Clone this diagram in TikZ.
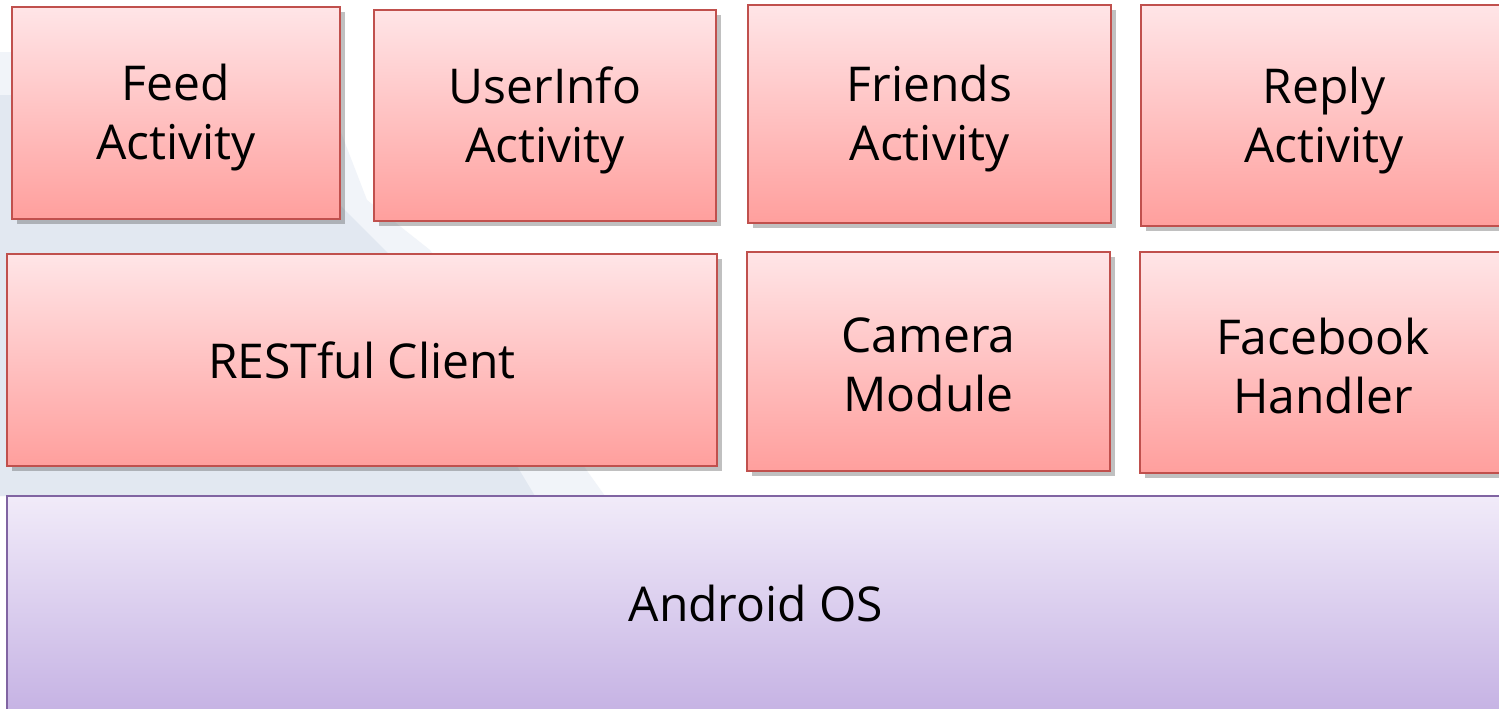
\documentclass[tikz,border=0pt]{standalone}
\usepackage{fontspec}
\setmainfont{Open Sans}
\usetikzlibrary{shadows}
\definecolor{redtop}{HTML}{FFE5E7}
\definecolor{redbot}{HTML}{FF9F9D}
\definecolor{redline}{HTML}{C0504D}
\definecolor{purtop}{HTML}{F1EBF9}
\definecolor{purbot}{HTML}{C6B3E4}
\definecolor{purline}{HTML}{8064A2}
\definecolor{bgA}{HTML}{F1F4F9}
\definecolor{bgB}{HTML}{E2E8F1}
\tikzset{
  layerbox/.style={draw=redline, line width=1pt, top color=redtop, bottom color=redbot,
    inner sep=0pt, align=center, font=\fontsize{24}{29.5}\selectfont,
    drop shadow={shadow xshift=2.5pt, shadow yshift=-2.5pt, opacity=0.35, fill=black!70}},
  boxtext/.style={align=center, inner sep=0pt, font=\fontsize{24}{29.5}\selectfont, yshift=-2.5pt},
  osbox/.style={draw=purline, line width=1pt, top color=purtop, bottom color=purbot,
    inner sep=0pt, align=center, font=\fontsize{24}{29.5}\selectfont}
}
\begin{document}
\begin{tikzpicture}[x=0.5pt,y=-0.5pt]
\useasboundingbox (0,0) rectangle (1499,708);
\fill[white] (0,0) rectangle (1499,708);
% background swoosh
\fill[bgA] (0,52) -- (310,52) -- (367,200) -- (430,250) -- (605,496) -- (0,496) -- cycle;
\fill[bgB] (0,95) -- (290,95) -- (335,200) -- (390,255) -- (535,496) -- (0,496) -- cycle;
% top row
\node[layerbox, minimum width=164pt, minimum height=106pt, label={[boxtext]center:Feed\\Activity}] (feed) at (176,113) {};
\node[layerbox, minimum width=171pt, minimum height=105.5pt, label={[boxtext]center:UserInfo\\Activity}] (userinfo) at (545,115.5) {};
\node[layerbox, minimum width=181.5pt, minimum height=109pt, label={[boxtext]center:Friends\\Activity}] (friends) at (929.5,114) {};
\node[layerbox, minimum width=183pt, minimum height=110.5pt, label={[boxtext]center:Reply\\Activity}] (reply) at (1324,115.5) {};
% middle row
\node[layerbox, minimum width=355pt, minimum height=106pt] (rest) at (362,360) {RESTful Client};
\node[layerbox, minimum width=181.5pt, minimum height=109.5pt, label={[boxtext, yshift=1pt]center:Camera\\Module}] (camera) at (928.5,361.5) {};
\node[layerbox, minimum width=183pt, minimum height=110.5pt, label={[boxtext, yshift=1pt]center:Facebook\\Handler}] (facebook) at (1323,362.5) {};
% bottom
\node[osbox, minimum width=749pt, minimum height=107pt] (android) at (756,603) {Android OS};
\end{tikzpicture}
\end{document}
